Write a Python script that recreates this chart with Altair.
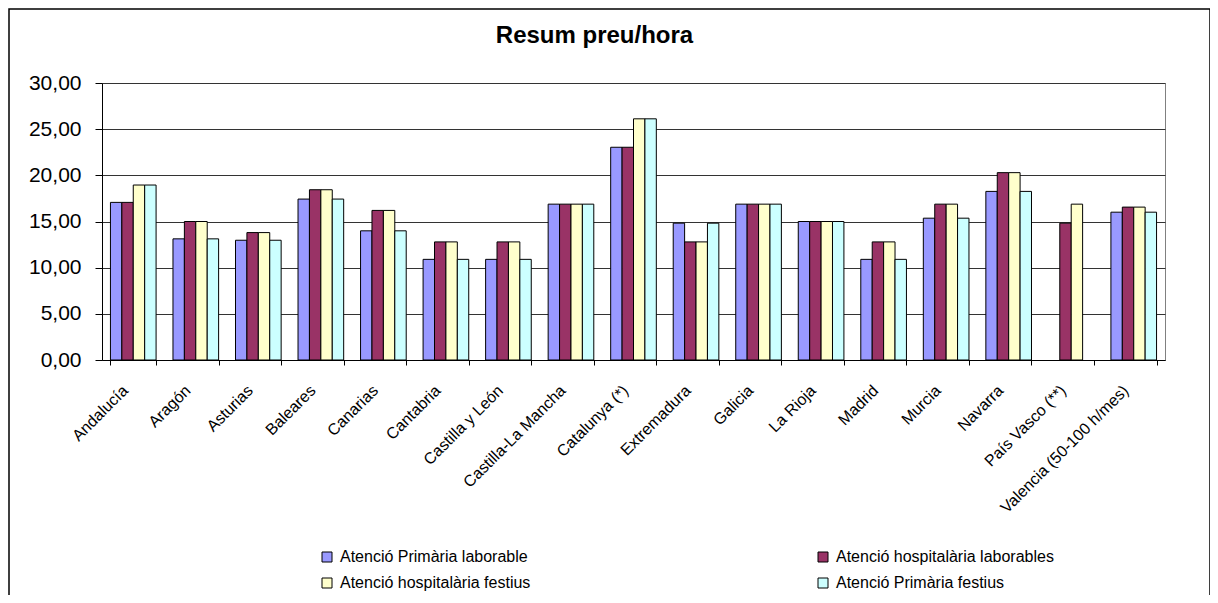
import altair as alt
import pandas as pd

categories = ["Andalucía", "Aragón", "Asturias", "Baleares", "Canarias", "Cantabria",
              "Castilla y León", "Castilla-La Mancha", "Catalunya (*)", "Extremadura",
              "Galicia", "La Rioja", "Madrid", "Murcia", "Navarra", "País Vasco (**)",
              "Valencia (50-100 h/mes)"]

series_names = ["Atenció Primària laborable", "Atenció hospitalària laborables",
                "Atenció hospitalària festius", "Atenció Primària festius"]

primaria_laborable = [17.07, 13.12, 12.97, 17.43, 13.99, 10.90, 10.90, 16.88, 23.04, 14.82,
                      16.88, 15.00, 10.90, 15.36, 18.26, None, 16.01]
hospitalaria_laborables = [17.07, 15.00, 13.80, 18.44, 16.20, 12.79, 12.79, 16.88, 23.04, 12.79,
                           16.88, 15.00, 12.79, 16.88, 20.29, 14.82, 16.56]
hospitalaria_festius = [18.95, 15.00, 13.80, 18.44, 16.20, 12.79, 12.79, 16.88, 26.12, 12.79,
                        16.88, 15.00, 12.79, 16.88, 20.29, 16.88, 16.56]
primaria_festius = [18.95, 13.12, 12.97, 17.43, 13.99, 10.90, 10.90, 16.88, 26.12, 14.82,
                    16.88, 15.00, 10.90, 15.36, 18.26, None, 16.01]

colors = ["#9999FF", "#993366", "#FFFFCC", "#CCFFFF"]

# legend is filled column by column: order so that rows read like the reference
legend_order = [0, 2, 1, 3]
legend_domain = [series_names[i] for i in legend_order]
legend_range = [colors[i] for i in legend_order]

rows = []
for name, vals in zip(series_names, [primaria_laborable, hospitalaria_laborables,
                                     hospitalaria_festius, primaria_festius]):
    for c, v in zip(categories, vals):
        if v is not None:
            rows.append({"comunitat": c, "serie": name, "valor": v})
df = pd.DataFrame(rows)

FONT = "Liberation Sans"

bars = alt.Chart(df).mark_bar(stroke="black", strokeWidth=1).encode(
    x=alt.X("comunitat:N", sort=categories, title=None,
            scale=alt.Scale(paddingInner=0.27, paddingOuter=0.135),
            axis=alt.Axis(labelAngle=-45, labelAlign="right", labelBaseline="top",
                          labelFont=FONT, labelFontSize=16, labelColor="black",
                          labelOffset=-14, labelPadding=17,
                          tickBand="extent", tickSize=5, tickColor="black",
                          domainColor="black", grid=False)),
    xOffset=alt.XOffset("serie:N", sort=series_names,
                        scale=alt.Scale(domain=series_names, paddingInner=0, paddingOuter=0)),
    y=alt.Y("valor:Q", title=None,
            scale=alt.Scale(domain=[0, 30], nice=False),
            axis=alt.Axis(values=[0, 5, 10, 15, 20, 25, 30],
                          labelExpr="replace(format(datum.value, '.2f'), '.', ',')",
                          labelFont=FONT, labelFontSize=21, labelColor="black",
                          labelPadding=14, tickSize=7, tickColor="black",
                          domainColor="black", gridColor="#333333", gridWidth=1)),
    color=alt.Color("serie:N",
                    scale=alt.Scale(domain=legend_domain, range=legend_range),
                    legend=alt.Legend(title=None, orient="none", legendX=217, legendY=466,
                                      columns=2, columnPadding=284, rowPadding=10,
                                      symbolType="square", symbolSize=100,
                                      symbolStrokeColor="black", symbolStrokeWidth=1,
                                      labelFont=FONT, labelFontSize=16, labelColor="black",
                                      labelOffset=5, labelLimit=400)),
)

frame = alt.Chart(alt.Data(values=[{"k": 1}])).mark_rect(
    fillOpacity=0, stroke="black", strokeWidth=1.5
).encode(
    x=alt.value(-93), x2=alt.value(1108), y=alt.value(-74), y2=alt.value(530)
)

chart = alt.layer(bars, frame).properties(
    width=1063, height=277,
    autosize=alt.AutoSizeParams(type="none"),
    padding={"left": 94, "top": 75, "right": 45, "bottom": 235},
    title=alt.TitleParams("Resum preu/hora", font=FONT, fontSize=24, fontWeight="bold",
                          color="black", anchor="middle", dx=-39, offset=-59,
                          baseline="alphabetic"),
    background="white",
).configure_view(stroke="#808080", strokeWidth=1)

chart.save("out.html", embed_options={"renderer": "svg", "actions": False})
